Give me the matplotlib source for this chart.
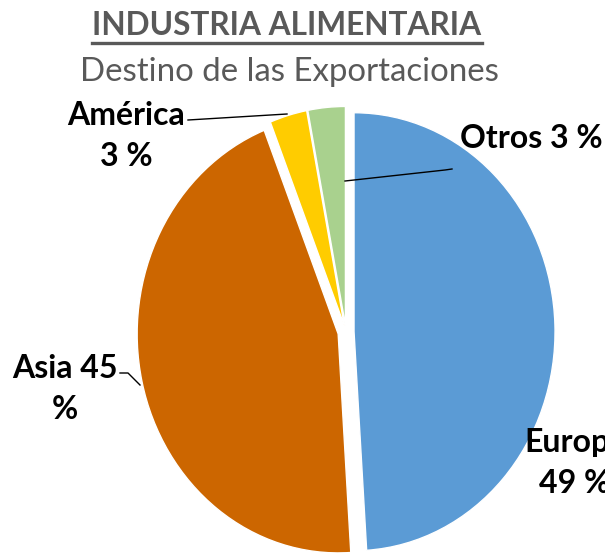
import matplotlib
matplotlib.use('Agg')
import matplotlib.pyplot as plt
from matplotlib.lines import Line2D

# data
regions = ['Europa', 'Asia', 'América', 'Otros']
shares = [49, 45, 3, 3]
colors = ['#5B9BD5', '#CC6600', '#FFCC00', '#A9D18E']
explode = [0.04, 0.04, 0.03, 0.03]
# how each label is broken over lines
label_fmt = ['{n}\n{v} %', '{n} {v}\n%', '{n}\n{v} %', '{n} {v} %']

TITLE = 'INDUSTRIA ALIMENTARIA'
SUBTITLE = 'Destino de las Exportaciones'
GRAY = '#595959'
FONT = ['Lato', 'DejaVu Sans']

W, H = 605, 555
fig = plt.figure(figsize=(W / 100, H / 100), dpi=100)
ax = fig.add_axes([0, 0, 1, 1])

wedges, _ = ax.pie(shares, colors=colors, explode=explode, startangle=90,
                   counterclock=False,
                   wedgeprops=dict(edgecolor='white', linewidth=1))

# the reference pie is slightly taller than wide, so no equal aspect
CX, CY, RX, RY = 346, 332, 201, 219
ax.set_aspect('auto')
ax.set_xlim(-CX / RX, (W - CX) / RX)
ax.set_ylim(-(H - CY) / RY, CY / RY)
ax.axis('off')


def px(x, y):
    """pixel position (from top-left) -> data coords"""
    return (x - CX) / RX, (CY - y) / RY


# label positions in pixels (centre of text block) and leader paths
label_pos = {
    'Europa': (575, 463, 'center'),
    'Asia': (65, 389, 'center'),
    'América': (126, 136, 'center'),
    'Otros': (531, 148, 'baseline'),
}
leaders = {
    'Asia': [(120, 373), (128, 373), (140, 385)],
    'América': [(188, 120), (287, 114)],
    'Otros': [(452, 169), (445, 170), (345, 181)],
}

label_txt = {}
for name, v, fmt in zip(regions, shares, label_fmt):
    x, y, va = label_pos[name]
    t = ax.text(*px(x, y), fmt.format(n=name, v=v), ha='center', va=va,
                fontsize=21, fontweight='bold', family=FONT,
                linespacing=1.5, color='black', clip_on=False)
    label_txt[name] = t
    if name in leaders:
        pts = [px(a, b) for a, b in leaders[name]]
        ax.plot([p[0] for p in pts], [p[1] for p in pts], color='black', lw=1)

title = fig.text(287 / W, 1 - 35 / H, TITLE, ha='center', va='baseline',
                 fontsize=22, fontweight='bold', color=GRAY, family=FONT)
subtitle = fig.text(289.5 / W, 1 - 81 / H, SUBTITLE, ha='center', va='baseline',
                    fontsize=23, color=GRAY, family=FONT)

# fit text widths to what the reference shows
fig.canvas.draw()
r = fig.canvas.get_renderer()


def fit(t, target):
    bb = t.get_window_extent(r)
    t.set_fontsize(t.get_fontsize() * target / bb.width)


fit(title, 390)
fit(subtitle, 419)
targets = {'América': 124, 'Otros': 134, 'Asia': 106}
scales = [targets[k] / label_txt[k].get_window_extent(r).width for k in targets]
s = sum(scales) / len(scales)
for t in label_txt.values():
    t.set_fontsize(t.get_fontsize() * s)

fig.canvas.draw()
bb = title.get_window_extent(r)
yl = 1 - 43 / H
fig.add_artist(Line2D([bb.x0 / W, bb.x1 / W], [yl, yl], color=GRAY, lw=2.4,
                      transform=fig.transFigure))

fig.savefig('out.png', dpi=100, facecolor='white')
